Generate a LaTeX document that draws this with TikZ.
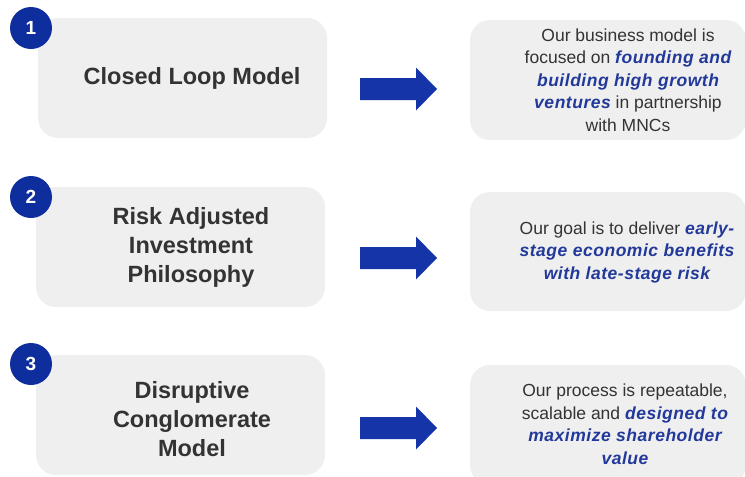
\documentclass[tikz,border=0pt]{standalone}
\usepackage{fontspec}
\setmainfont{Liberation Sans}
\usetikzlibrary{positioning}
\definecolor{boxgray}{HTML}{EFEFEF}
\definecolor{navy}{HTML}{0D2E9C}
\definecolor{arrowblue}{HTML}{1434A8}
\definecolor{hlblue}{HTML}{22399A}
\definecolor{darktext}{HTML}{333333}
\newcommand\hl[1]{{\color{hlblue}\bfseries\itshape\addfontfeature{LetterSpace=3}#1}}
\tikzset{
  graybox/.style={draw=none, fill=boxgray, rounded corners=20pt, inner sep=0pt},
  numcirc/.style={circle, fill=navy, minimum size=42pt, inner sep=0pt, text=white,
    font=\fontsize{19}{22}\selectfont\bfseries},
  lefttext/.style={align=center, text=darktext, inner sep=0pt,
    font=\fontsize{23.5}{29}\selectfont\bfseries},
  righttext/.style={align=center, text=darktext, inner sep=0pt,
    font=\fontsize{17.5}{22.5}\selectfont},
  arrowfill/.style={fill=arrowblue, draw=none}
}
\begin{document}
\begin{tikzpicture}[x=1pt, y=-1pt]
\useasboundingbox (0,0) rectangle (745,477);
\clip (0,0) rectangle (745,477);
% left boxes
\node[graybox, minimum width=289pt, minimum height=120pt] (L1) at (182.5,78) {};
\node[graybox, minimum width=289pt, minimum height=120pt] (L2) at (180.5,247) {};
\node[graybox, minimum width=289pt, minimum height=120pt] (L3) at (180.5,415) {};
% right boxes
\node[graybox, minimum width=276pt, minimum height=120pt] (R1) at (608,80) {};
\node[graybox, minimum width=276pt, minimum height=119pt] (R2) at (608,251.5) {};
\node[graybox, minimum width=276pt, minimum height=120pt] (R3) at (608,425) {};
% numbers
\node[numcirc] (C1) at (31,28) {1};
\node[numcirc] (C2) at (31,197) {2};
\node[numcirc] (C3) at (31,364) {3};
% left texts
\node[lefttext] (T1) at (192,78) {Closed Loop Model};
\node[lefttext] (T2) at (191,247) {Risk Adjusted\\Investment\\Philosophy};
\node[lefttext] (T3) at (192,419) {Disruptive\\Conglomerate\\Model};
% right texts
\node[righttext] (S1) at (628,80) {Our business model is\\focused on \hl{founding and}\\\hl{building high growth}\\\hl{ventures} in partnership\\with MNCs};
\node[righttext] (S2) at (627,252) {Our goal is to deliver \hl{early-}\\\hl{stage economic benefits}\\\hl{with late-stage risk}};
\node[righttext] (S3) at (625,424) {Our process is repeatable,\\scalable and \hl{designed to}\\\hl{maximize shareholder}\\\hl{value}};
% arrows
\foreach \n/\y in {1/89, 2/258, 3/428}{
  \coordinate (A\n) at (360,\y);
  \fill[arrowfill] (A\n) ++(0,-11) -- ++(56,0) -- ++(0,-10.5) -- ++(21,21.5) -- ++(-21,21.5) -- ++(0,-10.5) -- ++(-56,0) -- cycle;
}
\end{tikzpicture}
\end{document}
